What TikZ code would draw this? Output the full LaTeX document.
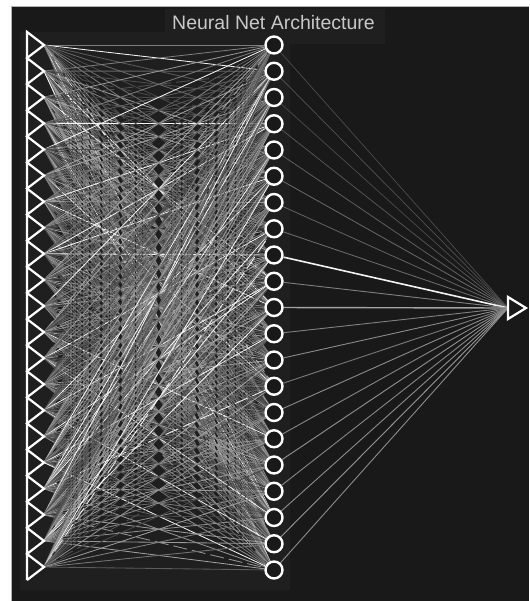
\documentclass[tikz,border=0pt]{standalone}
\usepackage{fontspec}
\setmainfont{Liberation Sans}
\pgfdeclarelayer{bg}
\pgfdeclarelayer{wires}
\pgfsetlayers{bg,wires,main}
\definecolor{bgdark}{HTML}{191919}
\definecolor{haze}{HTML}{1F1F1F}
\definecolor{titlegray}{HTML}{C8C8C8}
\tikzset{
  hidden/.style={circle, draw=white, line width=2.4pt, minimum size=17pt, inner sep=0pt, fill=bgdark},
  inshape/.style={draw=white, line width=2.2pt, line join=miter},
  wire/.style={line width=0.85pt},
  titletext/.style={text=titlegray, font=\fontsize{19.5}{22}\selectfont, anchor=base, inner sep=0pt}
}
\begin{document}
\begin{tikzpicture}[x=1pt,y=-1pt]
\useasboundingbox (0,0) rectangle (529,601);
\begin{pgfonlayer}{bg}
  \fill[white] (0,0) rectangle (529,601);
  \fill[bgdark] (11,6) rectangle (529,601);
  \draw[gray!60, line width=0.8pt] (11,601) -- (11,6) -- (529,6);
  \fill[haze] (20,32) rectangle (290,590);
  \fill[haze] (165,9) rectangle (385,44);
\end{pgfonlayer}

% title
\node[titletext] (title) at (273.5,29.5) {Neural Net Architecture};

% input layer (triangles) with named tips
\foreach \i in {0,...,20}{
  \coordinate (in\i) at (44,{45+26.1*\i});
}
\draw[inshape] (27,32) -- (27,580)
  \foreach \i in {0,...,20}{ -- (27,{45+26.1*\i-13.05}) -- (in\i) -- (27,{45+26.1*\i+13.05}) };

% hidden layer
\foreach \j in {0,...,20}{
  \node[hidden] (h\j) at (274,{45+26.25*\j}) {};
}

% output
\coordinate (out) at (508,308);
\draw[inshape] (508,297) -- (526,308) -- (508,319) -- cycle;

% connections input -> hidden
\pgfmathsetseed{4242}
\begin{pgfonlayer}{wires}
\foreach \i in {0,...,20}{
  \foreach \j in {0,...,20}{
    \pgfmathtruncatemacro\b{rnd<0.07 ? 95 : 20+42*rnd}
    \pgfmathtruncatemacro\d{rnd<0.12 ? 1 : 0}
    \ifnum\d=1
      \draw[wire, draw=white!\b!bgdark, dash pattern=on 14pt off 5pt] (in\i) -- (h\j);
    \else
      \draw[wire, draw=white!\b!bgdark] (in\i) -- (h\j);
    \fi
  }
}
% hidden -> output
\foreach \j/\b/\w in {0/22/0.7,1/25/0.7,2/22/0.7,3/28/0.7,4/30/0.8,5/35/0.8,6/32/0.8,7/38/0.8,8/95/1.6,9/45/0.9,10/60/1.4,11/45/0.9,12/50/0.9,13/42/0.9,14/50/0.9,15/48/0.9,16/52/0.9,17/48/0.9,18/50/0.9,19/55/0.9,20/50/0.9}{
  \draw[draw=white!\b!bgdark, line width=\w pt] (h\j) -- (out);
}
\end{pgfonlayer}
\end{tikzpicture}
\end{document}
